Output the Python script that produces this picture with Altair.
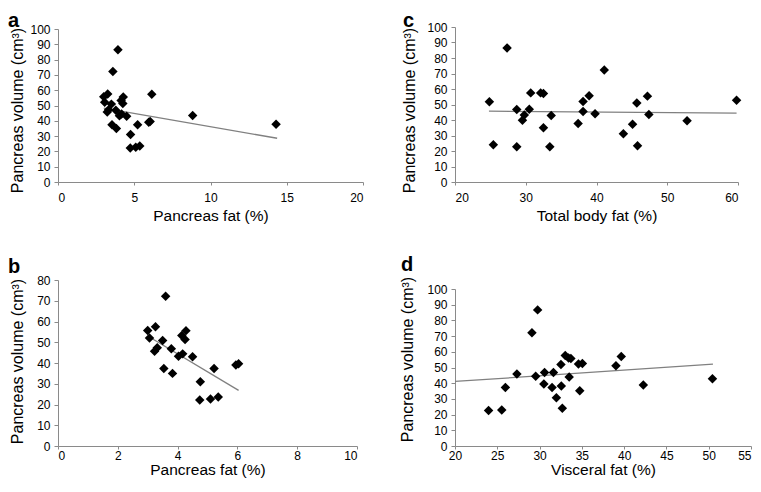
import altair as alt
import pandas as pd

# ---- data ----
# Pancreas fat (%) vs pancreas volume (cm3) -- core points (shown in a and b)
panc_fat = [3.00, 3.06, 3.26, 3.23, 3.32, 3.50, 3.60, 3.54, 3.79, 3.83, 4.03, 4.17,
            4.14, 4.25, 4.28, 4.50, 4.76, 4.74, 5.10, 5.36, 5.22, 5.95, 6.04]
panc_vol = [55.7, 52.1, 57.5, 45.7, 47.3, 50.9, 72.2, 37.4, 46.9, 35.0, 43.3, 44.4,
            53.3, 51.3, 55.6, 43.0, 31.0, 22.2, 22.7, 23.6, 37.4, 39.0, 39.6]
# extra points shown only in panel a
outl_fat = [3.93, 6.15, 8.83, 14.3]
outl_vol = [86.5, 57.4, 43.4, 37.8]

# Total body fat (%) vs pancreas volume
tbf = [24.86, 25.42, 27.36, 28.73, 28.73, 29.53, 29.8, 30.5, 30.7, 32.1, 32.5, 32.5,
       33.4, 33.6, 37.4, 38.1, 38.1, 38.96, 39.8, 41.1, 43.8, 45.1, 45.7, 45.8,
       47.2, 47.4, 52.8, 59.8]
tbf_vol = [51.7, 24.0, 86.5, 46.8, 22.7, 39.9, 43.3, 47.0, 57.5, 57.5, 57.1, 35.0,
           22.7, 42.9, 37.8, 51.9, 45.5, 55.6, 44.0, 72.3, 31.1, 37.3, 50.9, 23.4,
           55.4, 43.6, 39.5, 52.8]

# Visceral fat (%) vs pancreas volume
visc = [23.97, 25.53, 25.96, 27.32, 29.1, 29.77, 29.54, 30.51, 30.59, 31.64, 31.48,
        31.99, 32.57, 32.69, 32.53, 33.04, 33.43, 33.7, 33.5, 34.6, 35.06, 34.75,
        39.03, 39.66, 42.27, 50.44]
visc_vol = [22.6, 23.0, 37.3, 45.8, 72.2, 86.7, 44.5, 39.5, 46.8, 46.8, 37.3,
            30.8, 38.2, 24.1, 51.9, 57.6, 56.1, 55.7, 43.9, 52.3, 52.5, 35.2,
            51.1, 57.0, 38.8, 42.8]

# trend line end points
trend_a_x = [3.0, 14.37]
trend_a_y = [48.3, 28.6]
trend_b_x = [3.0, 6.04]
trend_b_y = [53.0, 26.8]
trend_c_x = [24.8, 59.8]
trend_c_y = [45.7, 44.4]
trend_d_x = [20.0, 50.5]
trend_d_y = [41.1, 52.1]

x_ticks_a = [0, 5, 10, 15, 20]
x_ticks_b = [0, 2, 4, 6, 8, 10]
x_ticks_c = [20, 30, 40, 50, 60]
x_ticks_d = [20, 25, 30, 35, 40, 45, 50, 55]
y_ticks_100 = [0, 10, 20, 30, 40, 50, 60, 70, 80, 90, 100]
y_ticks_80 = [0, 10, 20, 30, 40, 50, 60, 70, 80]

Y_TITLE = "Pancreas volume (cm³)"
FONT = "Liberation Sans"


def panel(px, py, lx, ly, letter, xtitle, xdom, xticks, ydom, yticks,
          w, h, yrange, title_x, title_y, let_x, let_y, lab_pad, tit_pad,
          last_right=None):
    pts_df = pd.DataFrame({"x": px, "y": py})
    line_df = pd.DataFrame({"x": lx, "y": ly})
    let_df = pd.DataFrame({"t": [letter]})
    if yrange is not None:
        yscale = alt.Scale(domain=ydom, nice=False, zero=False, range=yrange)
    else:
        yscale = alt.Scale(domain=ydom, nice=False, zero=False)
    if last_right is not None:
        xaxis = alt.Axis(values=xticks, title=xtitle, labelPadding=lab_pad,
                         titlePadding=tit_pad,
                         labelAlign=alt.condition(f"datum.value == {last_right}",
                                                  alt.value("right"), alt.value("center")))
    else:
        xaxis = alt.Axis(values=xticks, title=xtitle, labelPadding=lab_pad,
                         titlePadding=tit_pad)
    xenc = alt.X("x:Q", scale=alt.Scale(domain=xdom, nice=False, zero=False), axis=xaxis)
    yenc = alt.Y("y:Q", scale=yscale,
                 axis=alt.Axis(values=yticks, title=Y_TITLE, titleX=title_x,
                               titleY=title_y, titleBaseline="alphabetic",
                               titleFontSize=16))
    line = alt.Chart(line_df).mark_line(color="#808080", strokeWidth=1.3).encode(x=xenc, y=yenc)
    pts = alt.Chart(pts_df).mark_point(shape="diamond", filled=True, color="black",
                                       opacity=1, size=90).encode(x=xenc, y=yenc)
    lab = alt.Chart(let_df).mark_text(align="left", baseline="alphabetic", fontSize=20,
                                      fontWeight="bold", font=FONT, color="black").encode(
        text="t:N", x=alt.value(let_x), y=alt.value(let_y))
    return alt.layer(line, pts, lab).properties(width=w, height=h)


# row 1 top at page y=27, row 2 top at page y=279
a = panel(panc_fat + outl_fat, panc_vol + outl_vol, trend_a_x, trend_a_y, "a",
          "Pancreas fat (%)", [0, 20], x_ticks_a, [0, 100], y_ticks_100,
          305, 155, [155, 2], -36, 83, -50, 0, 7, 5)
c = panel(tbf, tbf_vol, trend_c_x, trend_c_y, "c",
          "Total body fat (%)", [20, 60], x_ticks_c, [0, 100], y_ticks_100,
          283, 155, None, -41, 83, -52, 0, 7, 5)
b = panel(panc_fat, panc_vol, trend_b_x, trend_b_y, "b",
          "Pancreas fat (%)", [0, 10], x_ticks_b, [0, 80], y_ticks_80,
          299, 167, [167, 1], -36, 82, -50, -6, 1, 1.5)
d = panel(visc, visc_vol, trend_d_x, trend_d_y, "d",
          "Visceral fat (%)", [20, 55], x_ticks_d, [0, 100], y_ticks_100,
          296, 167, [167, 10], -43, 80, -54, -8, 1, 1.5, last_right=55)

chart = alt.concat(a, c, b, d, columns=2, spacing={"row": 97, "column": 92},
                   bounds="flush").properties(
    padding={"top": 3, "left": 0, "right": 0, "bottom": 0}, background="white"
).configure_view(stroke=None).configure_axis(
    grid=False, domainColor="#8a8a8a", tickColor="#8a8a8a",
    labelColor="black", labelFont=FONT, labelFontSize=12,
    titleFont=FONT, titleFontSize=15.5, titleFontWeight="normal", titleColor="black"
).configure_axisX(
    tickSize=3
).configure_axisY(
    tickSize=4, labelPadding=4
)

chart.save("out.html", embed_options={"renderer": "svg", "actions": False})
